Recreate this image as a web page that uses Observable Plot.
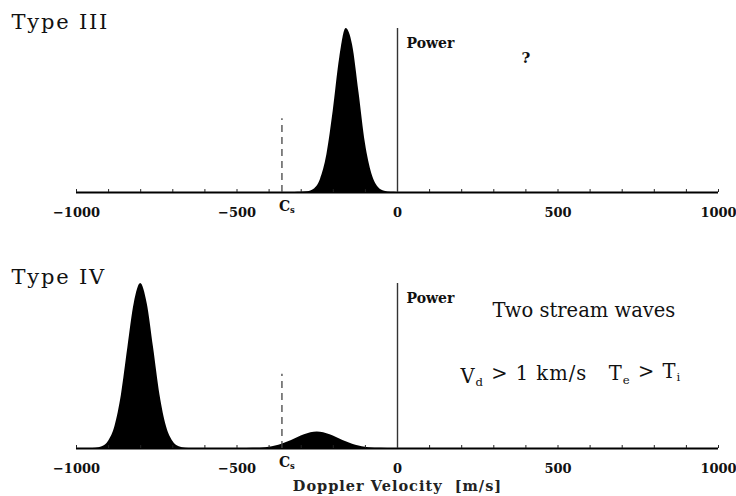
<!DOCTYPE html>
<html><head><meta charset="utf-8">
<script src="https://cdn.jsdelivr.net/npm/d3@7"></script>
<script src="https://cdn.jsdelivr.net/npm/@observablehq/plot@0.6"></script>
<style>
body{margin:0;background:#fff;}
#chart{width:736px;height:496px;overflow:hidden;}
svg{display:block;}
</style></head><body><div id="chart"></div>
<script>
// ---- data ----
const xTicks = [-1000, -500, 0, 500, 1000];
const minorTicks = [-1000,-900,-800,-700,-600,-500,-400,-300,-200,-100,0,100,200,300,400,500,600,700,800,900,1000];
const soundSpeed = -360;          // C_s marker (m/s)
const soundMarkerHeight = 0.45;   // relative power reach of the dashed C_s line
const powerLineTop = 1;

// Type III spectrum (relative power)
const typeIIIVelocity = [-1000,-340,-320,-300,-280,-260,-240,-220,-200,-180,-160,-140,-120,-100,-80,-60,-40,-20,0,1000];
const typeIIIPower    = [0,0,0.0005,0.001,0.004,0.02,0.08,0.23,0.5,0.82,1.0,0.9,0.61,0.3,0.115,0.032,0.007,0.001,0,0];

// Type IV spectrum (relative power)
const typeIVVelocity = [-1000,-980,-960,-940,-920,-900,-880,-860,-840,-820,-800,-780,-760,-740,-720,-700,-680,-660,-640,-600,-490,-450,-410,-370,-330,-290,-250,-210,-170,-130,-90,-50,-10,1000];
const typeIVPower    = [0,0,0.0003,0.002,0.011,0.044,0.135,0.325,0.61,0.88,1.0,0.88,0.61,0.325,0.135,0.044,0.011,0.002,0.0003,0,0,0.001,0.005,0.019,0.048,0.083,0.1,0.083,0.048,0.019,0.005,0.001,0,0];

const titles = ["Type III", "Type IV"];
const powerLabel = "Power";
const unknownLabel = "?";
const twoStreamLabel = "Two stream waves";
const conditionLabel = "V_d > 1 km/s   T_e > T_i";
const soundLabel = "C_s";
const xLabel = "Doppler Velocity  [m/s]";

const FONT = "DejaVu Serif";
const fmt = d => (d < 0 ? "\u2212" + Math.abs(d) : String(d));

function toRows(v, p) { return v.map((x, i) => ({v: x, p: p[i]})); }

function panel({rows, height, marginTop, marginBottom, title, extra, showXLabel}) {
  const marks = [
    Plot.areaY(rows, {x: "v", y: "p", fill: "#000", curve: "monotone-x"}),
    Plot.ruleY([0], {stroke: "#000", strokeWidth: 2}),
    Plot.ruleX(minorTicks, {y1: 0, y2: 0.018, stroke: "#222", strokeWidth: 1}),
    Plot.ruleX([0], {y1: 0, y2: powerLineTop, stroke: "#333", strokeWidth: 1.4}),
    Plot.ruleX([soundSpeed], {y1: 0, y2: soundMarkerHeight, stroke: "#444", strokeWidth: 1.3, strokeDasharray: "7,5"}),
    Plot.axisX(xTicks, {tickSize: 0, tickPadding: 15, tickFormat: fmt, fontSize: 13, fontWeight: "bold", label: null, fill: "#111"}),
    Plot.text([soundLabel], {x: soundSpeed, y: 0, dx: -3, dy: 18, text: d => d, textAnchor: "start", lineAnchor: "bottom", fontSize: 14, fontWeight: "bold", fill: "#111"}),
    Plot.text([title], {x: -1000, y: 1, dx: -65, dy: 0, text: d => d, textAnchor: "start", lineAnchor: "bottom", fontSize: 21, fill: "#111"}),
    Plot.text([powerLabel], {x: 0, y: powerLineTop, dx: 9, dy: 19, text: d => d, textAnchor: "start", lineAnchor: "bottom", fontSize: 14, fontWeight: "bold", fill: "#111"}),
    ...extra
  ];
  if (showXLabel) {
    marks.push(Plot.text([xLabel], {x: 0, y: 0, dy: 42, text: d => d, textAnchor: "middle", lineAnchor: "bottom", fontSize: 14.5, fontWeight: "bold", fill: "#222"}));
  }
  return Plot.plot({
    width: 736, height, marginLeft: 76, marginRight: 18, marginTop, marginBottom,
    x: {domain: [-1000, 1000]},
    y: {domain: [0, 1], axis: null},
    style: {fontFamily: FONT, background: "#fff", overflow: "visible"},
    marks
  });
}

const topPanel = panel({
  rows: toRows(typeIIIVelocity, typeIIIPower),
  height: 250, marginTop: 28, marginBottom: 58, title: titles[0],
  extra: [
    Plot.text([unknownLabel], {x: 400, y: 1, dy: 34, text: d => d, textAnchor: "middle", lineAnchor: "bottom", fontSize: 15, fontWeight: "bold", fill: "#111"})
  ]
});
const bottomPanel = panel({
  rows: toRows(typeIVVelocity, typeIVPower),
  height: 246, marginTop: 33, marginBottom: 48, title: titles[1], showXLabel: true,
  extra: [
    Plot.text([twoStreamLabel], {x: 296, y: 1, dy: 33, text: d => d, textAnchor: "start", lineAnchor: "bottom", fontSize: 19.5, fill: "#111"}),
    Plot.text([conditionLabel], {x: 196, y: 0.4, text: d => d, textAnchor: "start", lineAnchor: "bottom", fontSize: 19.5, fill: "#111"})
  ]
});

const el = document.getElementById("chart");
el.append(topPanel, bottomPanel);

// letter spacing to match the typewriter-like spacing of the original
const spacing = new Map([[titles[0], "1.8px"], [titles[1], "1.8px"], [xLabel, "1px"], [conditionLabel, "1px"]]);

d3.selectAll("#chart svg text").each(function() {
  const t = this.textContent;
  const sel = d3.select(this);
  if (spacing.has(t)) sel.style("letter-spacing", spacing.get(t));
  if (!t.includes("_")) return;
  // render "_x" as subscripts
  sel.text(null);
  const parts = t.split(/_(\w)/);
  parts.forEach((p, i) => {
    if (i % 2 === 1) {
      sel.append("tspan").attr("dy", "0.3em").attr("font-size", "0.6em").text(p);
    } else if (p !== "") {
      const ts = sel.append("tspan").text(p);
      if (i > 0) ts.attr("dy", "-0.3em");
    }
  });
});
</script></body></html>
